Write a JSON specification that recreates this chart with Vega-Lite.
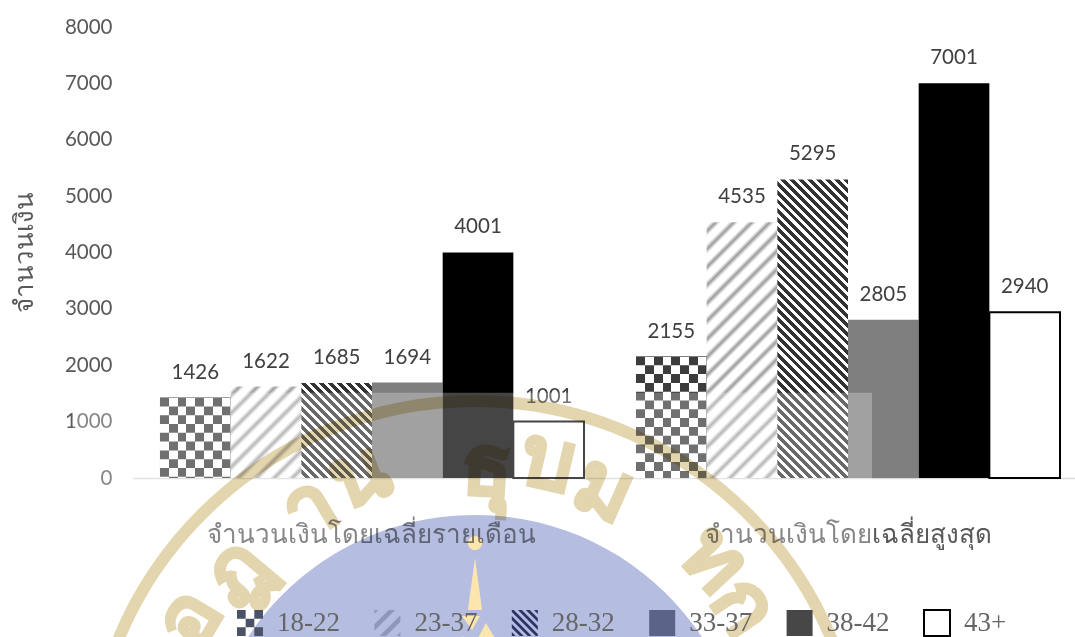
{
"$schema":"https://vega.github.io/schema/vega-lite/v6.json",
"autosize":{"type":"none"},
"padding":{"left":133,"top":27,"right":0,"bottom":159},
"width":942,"height":451,
"background":"white",
"config":{"view":{"stroke":null}},
"data":{"values":[
{"group":"จำนวนเงินโดยเฉลี่ยรายเดือน","age":"18-22","value":1426},
{"group":"จำนวนเงินโดยเฉลี่ยรายเดือน","age":"23-37","value":1622},
{"group":"จำนวนเงินโดยเฉลี่ยรายเดือน","age":"28-32","value":1685},
{"group":"จำนวนเงินโดยเฉลี่ยรายเดือน","age":"33-37","value":1694},
{"group":"จำนวนเงินโดยเฉลี่ยรายเดือน","age":"38-42","value":4001},
{"group":"จำนวนเงินโดยเฉลี่ยรายเดือน","age":"43+","value":1001},
{"group":"จำนวนเงินโดยเฉลี่ยสูงสุด","age":"18-22","value":2155},
{"group":"จำนวนเงินโดยเฉลี่ยสูงสุด","age":"23-37","value":4535},
{"group":"จำนวนเงินโดยเฉลี่ยสูงสุด","age":"28-32","value":5295},
{"group":"จำนวนเงินโดยเฉลี่ยสูงสุด","age":"33-37","value":2805},
{"group":"จำนวนเงินโดยเฉลี่ยสูงสุด","age":"38-42","value":7001},
{"group":"จำนวนเงินโดยเฉลี่ยสูงสุด","age":"43+","value":2940}
]},
"resolve":{"scale":{"x":"independent"}},
"layer":[
{
"encoding":{
"x":{"field":"group","type":"nominal","sort":null,"title":null,
"scale":{"paddingInner":0.10924,"paddingOuter":0.0441,"align":0.643},
"axis":{"labelAngle":0,"ticks":false,"domainColor":"#d9d9d9","domainWidth":1.5,"labelPadding":43,"labelFont":"Liberation Serif","labelFontSize":26,"labelColor":"#595959","labelLimit":500}},
"xOffset":{"field":"age","type":"nominal","sort":null,"scale":{"domain":["18-22","23-37","28-32","33-37","38-42","43+"],"paddingInner":0,"paddingOuter":0}},
"y":{"field":"value","type":"quantitative","scale":{"domain":[0,8000],"nice":false},
"axis":{"values":[0,1000,2000,3000,4000,5000,6000,7000,8000],"format":"d","grid":false,"ticks":false,"domain":false,"labelPadding":21,"labelFont":"Lato","labelFontSize":20.5,"labelColor":"#595959",
"title":"จำนวนเงิน","titleFont":"Liberation Serif","titleFontSize":26,"titleFontWeight":"normal","titleColor":"#595959","titleX":-96,"titleY":225}}
},
"layer":[
{"transform":[{"filter":{"field":"age","equal":"18-22"}}],"mark":{"type":"bar","fill":"#000000"}},
{"transform":[{"filter":{"field":"age","equal":"18-22"}}],"mark":{"type":"bar","blend":"difference","fill":{"gradient":"linear","x1":0,"y1":0,"x2":1,"y2":0,"stops":[
{"offset":0,"color":"#000"},{"offset":0.125,"color":"#000"},{"offset":0.125,"color":"#c3c3c3"},{"offset":0.25,"color":"#c3c3c3"},{"offset":0.25,"color":"#000"},{"offset":0.375,"color":"#000"},{"offset":0.375,"color":"#c3c3c3"},{"offset":0.5,"color":"#c3c3c3"},{"offset":0.5,"color":"#000"},{"offset":0.625,"color":"#000"},{"offset":0.625,"color":"#c3c3c3"},{"offset":0.75,"color":"#c3c3c3"},{"offset":0.75,"color":"#000"},{"offset":0.875,"color":"#000"},{"offset":0.875,"color":"#c3c3c3"},{"offset":1,"color":"#c3c3c3"}]}}},
{"transform":[{"filter":{"field":"age","equal":"18-22"}}],"mark":{"type":"rule","blend":"difference","stroke":"#c3c3c3","strokeWidth":70.67,"strokeDash":[8.8,8.8],"strokeCap":"butt"},"encoding":{"y2":{"datum":0}}},
{"transform":[{"filter":{"field":"age","equal":"18-22"}}],"mark":{"type":"bar","blend":"difference","fill":"#ffffff"}},
{"transform":[{"filter":{"field":"value","equal":1622}}],"mark":{"type":"bar","fill":{"gradient":"linear","x1":0,"y1":0,"x2":0.8578,"y2":1.110,"stops":[
{"offset":0.025,"color":"#fff"},{"offset":0.056,"color":"#9c9c9c"},{"offset":0.086,"color":"#fff"},{"offset":0.136,"color":"#fff"},{"offset":0.167,"color":"#9c9c9c"},{"offset":0.197,"color":"#fff"},{"offset":0.247,"color":"#fff"},{"offset":0.278,"color":"#9c9c9c"},{"offset":0.308,"color":"#fff"},{"offset":0.358,"color":"#fff"},{"offset":0.389,"color":"#9c9c9c"},{"offset":0.419,"color":"#fff"},{"offset":0.469,"color":"#fff"},{"offset":0.5,"color":"#9c9c9c"},{"offset":0.531,"color":"#fff"},{"offset":0.58,"color":"#fff"},{"offset":0.611,"color":"#9c9c9c"},{"offset":0.642,"color":"#fff"},{"offset":0.691,"color":"#fff"},{"offset":0.722,"color":"#9c9c9c"},{"offset":0.753,"color":"#fff"},{"offset":0.802,"color":"#fff"},{"offset":0.833,"color":"#9c9c9c"},{"offset":0.864,"color":"#fff"},{"offset":0.913,"color":"#fff"},{"offset":0.944,"color":"#9c9c9c"},{"offset":0.975,"color":"#fff"}]}}},
{"transform":[{"filter":{"field":"value","equal":4535}}],"mark":{"type":"bar","fill":{"gradient":"linear","x1":0,"y1":0,"x2":0.32779,"y2":1.18583,"stops":[
{"offset":0.012,"color":"#fff"},{"offset":0.028,"color":"#9c9c9c"},{"offset":0.043,"color":"#fff"},{"offset":0.067,"color":"#fff"},{"offset":0.083,"color":"#9c9c9c"},{"offset":0.098,"color":"#fff"},{"offset":0.123,"color":"#fff"},{"offset":0.138,"color":"#9c9c9c"},{"offset":0.153,"color":"#fff"},{"offset":0.178,"color":"#fff"},{"offset":0.193,"color":"#9c9c9c"},{"offset":0.209,"color":"#fff"},{"offset":0.233,"color":"#fff"},{"offset":0.248,"color":"#9c9c9c"},{"offset":0.264,"color":"#fff"},{"offset":0.288,"color":"#fff"},{"offset":0.303,"color":"#9c9c9c"},{"offset":0.319,"color":"#fff"},{"offset":0.343,"color":"#fff"},{"offset":0.359,"color":"#9c9c9c"},{"offset":0.374,"color":"#fff"},{"offset":0.398,"color":"#fff"},{"offset":0.414,"color":"#9c9c9c"},{"offset":0.429,"color":"#fff"},{"offset":0.454,"color":"#fff"},{"offset":0.469,"color":"#9c9c9c"},{"offset":0.484,"color":"#fff"},{"offset":0.509,"color":"#fff"},{"offset":0.524,"color":"#9c9c9c"},{"offset":0.539,"color":"#fff"},{"offset":0.564,"color":"#fff"},{"offset":0.579,"color":"#9c9c9c"},{"offset":0.594,"color":"#fff"},{"offset":0.619,"color":"#fff"},{"offset":0.634,"color":"#9c9c9c"},{"offset":0.65,"color":"#fff"},{"offset":0.674,"color":"#fff"},{"offset":0.69,"color":"#9c9c9c"},{"offset":0.705,"color":"#fff"},{"offset":0.729,"color":"#fff"},{"offset":0.745,"color":"#9c9c9c"},{"offset":0.76,"color":"#fff"},{"offset":0.785,"color":"#fff"},{"offset":0.8,"color":"#9c9c9c"},{"offset":0.815,"color":"#fff"},{"offset":0.84,"color":"#fff"},{"offset":0.855,"color":"#9c9c9c"},{"offset":0.87,"color":"#fff"},{"offset":0.895,"color":"#fff"},{"offset":0.91,"color":"#9c9c9c"},{"offset":0.925,"color":"#fff"},{"offset":0.95,"color":"#fff"},{"offset":0.966,"color":"#9c9c9c"},{"offset":0.981,"color":"#fff"}]}}},
{"transform":[{"filter":{"field":"value","equal":1685}}],"mark":{"type":"bar","fill":{"gradient":"linear","x1":0,"y1":1,"x2":0.8351,"y2":-0.1226,"stops":[
{"offset":0.027,"color":"#fff"},{"offset":0.027,"color":"#333"},{"offset":0.054,"color":"#333"},{"offset":0.054,"color":"#fff"},{"offset":0.081,"color":"#fff"},{"offset":0.081,"color":"#333"},{"offset":0.109,"color":"#333"},{"offset":0.109,"color":"#fff"},{"offset":0.136,"color":"#fff"},{"offset":0.136,"color":"#333"},{"offset":0.163,"color":"#333"},{"offset":0.163,"color":"#fff"},{"offset":0.19,"color":"#fff"},{"offset":0.19,"color":"#333"},{"offset":0.217,"color":"#333"},{"offset":0.217,"color":"#fff"},{"offset":0.244,"color":"#fff"},{"offset":0.244,"color":"#333"},{"offset":0.272,"color":"#333"},{"offset":0.272,"color":"#fff"},{"offset":0.299,"color":"#fff"},{"offset":0.299,"color":"#333"},{"offset":0.326,"color":"#333"},{"offset":0.326,"color":"#fff"},{"offset":0.353,"color":"#fff"},{"offset":0.353,"color":"#333"},{"offset":0.38,"color":"#333"},{"offset":0.38,"color":"#fff"},{"offset":0.407,"color":"#fff"},{"offset":0.407,"color":"#333"},{"offset":0.435,"color":"#333"},{"offset":0.435,"color":"#fff"},{"offset":0.462,"color":"#fff"},{"offset":0.462,"color":"#333"},{"offset":0.489,"color":"#333"},{"offset":0.489,"color":"#fff"},{"offset":0.516,"color":"#fff"},{"offset":0.516,"color":"#333"},{"offset":0.543,"color":"#333"},{"offset":0.543,"color":"#fff"},{"offset":0.57,"color":"#fff"},{"offset":0.57,"color":"#333"},{"offset":0.598,"color":"#333"},{"offset":0.598,"color":"#fff"},{"offset":0.625,"color":"#fff"},{"offset":0.625,"color":"#333"},{"offset":0.652,"color":"#333"},{"offset":0.652,"color":"#fff"},{"offset":0.679,"color":"#fff"},{"offset":0.679,"color":"#333"},{"offset":0.706,"color":"#333"},{"offset":0.706,"color":"#fff"},{"offset":0.733,"color":"#fff"},{"offset":0.733,"color":"#333"},{"offset":0.761,"color":"#333"},{"offset":0.761,"color":"#fff"},{"offset":0.788,"color":"#fff"},{"offset":0.788,"color":"#333"},{"offset":0.815,"color":"#333"},{"offset":0.815,"color":"#fff"},{"offset":0.842,"color":"#fff"},{"offset":0.842,"color":"#333"},{"offset":0.869,"color":"#333"},{"offset":0.869,"color":"#fff"},{"offset":0.896,"color":"#fff"},{"offset":0.896,"color":"#333"},{"offset":0.924,"color":"#333"},{"offset":0.924,"color":"#fff"},{"offset":0.951,"color":"#fff"},{"offset":0.951,"color":"#333"},{"offset":0.978,"color":"#333"},{"offset":0.978,"color":"#fff"}]}}},
{"transform":[{"filter":{"field":"value","equal":5295}}],"mark":{"type":"bar","fill":{"gradient":"linear","x1":0,"y1":1,"x2":0.27726,"y2":-0.17111,"stops":[
{"offset":0.012,"color":"#fff"},{"offset":0.012,"color":"#333"},{"offset":0.024,"color":"#333"},{"offset":0.024,"color":"#fff"},{"offset":0.037,"color":"#fff"},{"offset":0.037,"color":"#333"},{"offset":0.049,"color":"#333"},{"offset":0.049,"color":"#fff"},{"offset":0.061,"color":"#fff"},{"offset":0.061,"color":"#333"},{"offset":0.073,"color":"#333"},{"offset":0.073,"color":"#fff"},{"offset":0.085,"color":"#fff"},{"offset":0.085,"color":"#333"},{"offset":0.098,"color":"#333"},{"offset":0.098,"color":"#fff"},{"offset":0.11,"color":"#fff"},{"offset":0.11,"color":"#333"},{"offset":0.122,"color":"#333"},{"offset":0.122,"color":"#fff"},{"offset":0.134,"color":"#fff"},{"offset":0.134,"color":"#333"},{"offset":0.146,"color":"#333"},{"offset":0.146,"color":"#fff"},{"offset":0.158,"color":"#fff"},{"offset":0.158,"color":"#333"},{"offset":0.171,"color":"#333"},{"offset":0.171,"color":"#fff"},{"offset":0.183,"color":"#fff"},{"offset":0.183,"color":"#333"},{"offset":0.195,"color":"#333"},{"offset":0.195,"color":"#fff"},{"offset":0.207,"color":"#fff"},{"offset":0.207,"color":"#333"},{"offset":0.219,"color":"#333"},{"offset":0.219,"color":"#fff"},{"offset":0.232,"color":"#fff"},{"offset":0.232,"color":"#333"},{"offset":0.244,"color":"#333"},{"offset":0.244,"color":"#fff"},{"offset":0.256,"color":"#fff"},{"offset":0.256,"color":"#333"},{"offset":0.268,"color":"#333"},{"offset":0.268,"color":"#fff"},{"offset":0.28,"color":"#fff"},{"offset":0.28,"color":"#333"},{"offset":0.293,"color":"#333"},{"offset":0.293,"color":"#fff"},{"offset":0.305,"color":"#fff"},{"offset":0.305,"color":"#333"},{"offset":0.317,"color":"#333"},{"offset":0.317,"color":"#fff"},{"offset":0.329,"color":"#fff"},{"offset":0.329,"color":"#333"},{"offset":0.341,"color":"#333"},{"offset":0.341,"color":"#fff"},{"offset":0.354,"color":"#fff"},{"offset":0.354,"color":"#333"},{"offset":0.366,"color":"#333"},{"offset":0.366,"color":"#fff"},{"offset":0.378,"color":"#fff"},{"offset":0.378,"color":"#333"},{"offset":0.39,"color":"#333"},{"offset":0.39,"color":"#fff"},{"offset":0.402,"color":"#fff"},{"offset":0.402,"color":"#333"},{"offset":0.414,"color":"#333"},{"offset":0.414,"color":"#fff"},{"offset":0.427,"color":"#fff"},{"offset":0.427,"color":"#333"},{"offset":0.439,"color":"#333"},{"offset":0.439,"color":"#fff"},{"offset":0.451,"color":"#fff"},{"offset":0.451,"color":"#333"},{"offset":0.463,"color":"#333"},{"offset":0.463,"color":"#fff"},{"offset":0.475,"color":"#fff"},{"offset":0.475,"color":"#333"},{"offset":0.488,"color":"#333"},{"offset":0.488,"color":"#fff"},{"offset":0.5,"color":"#fff"},{"offset":0.5,"color":"#333"},{"offset":0.512,"color":"#333"},{"offset":0.512,"color":"#fff"},{"offset":0.524,"color":"#fff"},{"offset":0.524,"color":"#333"},{"offset":0.536,"color":"#333"},{"offset":0.536,"color":"#fff"},{"offset":0.549,"color":"#fff"},{"offset":0.549,"color":"#333"},{"offset":0.561,"color":"#333"},{"offset":0.561,"color":"#fff"},{"offset":0.573,"color":"#fff"},{"offset":0.573,"color":"#333"},{"offset":0.585,"color":"#333"},{"offset":0.585,"color":"#fff"},{"offset":0.597,"color":"#fff"},{"offset":0.597,"color":"#333"},{"offset":0.61,"color":"#333"},{"offset":0.61,"color":"#fff"},{"offset":0.622,"color":"#fff"},{"offset":0.622,"color":"#333"},{"offset":0.634,"color":"#333"},{"offset":0.634,"color":"#fff"},{"offset":0.646,"color":"#fff"},{"offset":0.646,"color":"#333"},{"offset":0.658,"color":"#333"},{"offset":0.658,"color":"#fff"},{"offset":0.67,"color":"#fff"},{"offset":0.67,"color":"#333"},{"offset":0.683,"color":"#333"},{"offset":0.683,"color":"#fff"},{"offset":0.695,"color":"#fff"},{"offset":0.695,"color":"#333"},{"offset":0.707,"color":"#333"},{"offset":0.707,"color":"#fff"},{"offset":0.719,"color":"#fff"},{"offset":0.719,"color":"#333"},{"offset":0.731,"color":"#333"},{"offset":0.731,"color":"#fff"},{"offset":0.744,"color":"#fff"},{"offset":0.744,"color":"#333"},{"offset":0.756,"color":"#333"},{"offset":0.756,"color":"#fff"},{"offset":0.768,"color":"#fff"},{"offset":0.768,"color":"#333"},{"offset":0.78,"color":"#333"},{"offset":0.78,"color":"#fff"},{"offset":0.792,"color":"#fff"},{"offset":0.792,"color":"#333"},{"offset":0.805,"color":"#333"},{"offset":0.805,"color":"#fff"},{"offset":0.817,"color":"#fff"},{"offset":0.817,"color":"#333"},{"offset":0.829,"color":"#333"},{"offset":0.829,"color":"#fff"},{"offset":0.841,"color":"#fff"},{"offset":0.841,"color":"#333"},{"offset":0.853,"color":"#333"},{"offset":0.853,"color":"#fff"},{"offset":0.865,"color":"#fff"},{"offset":0.865,"color":"#333"},{"offset":0.878,"color":"#333"},{"offset":0.878,"color":"#fff"},{"offset":0.89,"color":"#fff"},{"offset":0.89,"color":"#333"},{"offset":0.902,"color":"#333"},{"offset":0.902,"color":"#fff"},{"offset":0.914,"color":"#fff"},{"offset":0.914,"color":"#333"},{"offset":0.926,"color":"#333"},{"offset":0.926,"color":"#fff"},{"offset":0.939,"color":"#fff"},{"offset":0.939,"color":"#333"},{"offset":0.951,"color":"#333"},{"offset":0.951,"color":"#fff"},{"offset":0.963,"color":"#fff"},{"offset":0.963,"color":"#333"},{"offset":0.975,"color":"#333"},{"offset":0.975,"color":"#fff"},{"offset":0.987,"color":"#fff"},{"offset":0.987,"color":"#333"}]}}},
{"transform":[{"filter":{"field":"age","equal":"33-37"}}],"mark":{"type":"bar","fill":"#7f7f7f"}},
{"transform":[{"filter":{"field":"age","equal":"38-42"}}],"mark":{"type":"bar","fill":"#000000"}},
{"transform":[{"filter":{"field":"age","equal":"43+"}}],"mark":{"type":"bar","fill":"#ffffff","stroke":"#000000","strokeWidth":2}},
{"mark":{"type":"point","filled":true,"size":0,"opacity":1},
"encoding":{
"fill":{"field":"age","type":"nominal","sort":null,"scale":{"domain":["18-22","23-37","28-32","33-37","38-42","43+"],"range":["#4c5268","#8f98b8","#2b3462","#5a6488","#474747","#ffffff"]},
"legend":{"title":null,"orient":"none","legendX":103,"legendY":582,"direction":"horizontal","columns":6,"gridAlign":"all","columnPadding":30.4,"symbolSize":676,"symbolStrokeWidth":2,"labelOffset":13,"labelFont":"Liberation Serif","labelFontSize":27,"labelColor":"#666666","padding":0,"labelLimit":120,
"encode":{"labels":{"update":{"fill":{"signal":"indexof(['18-22','23-37','28-32'],datum.value)>=0?'#3f4a70':datum.value==='33-37'?'#5f6580':'#6a6a6a'"}}}}}},
"shape":{"field":"age","type":"nominal","sort":null,"scale":{"domain":["18-22","23-37","28-32","33-37","38-42","43+"],"range":[
"M-1 -1H-.333V-.333H-1ZM.333 -1H1V-.333H.333ZM-.333 -.333H.333V.333H-.333ZM-1 .333H-.333V1H-1ZM.333 .333H1V1H.333Z",
"M-1 .1L.1 -1L.6 -1L-1 .6ZM-.6 1L1 -.6L1 -.1L-.1 1ZM-1 -1L-.7 -1L-1 -.7ZM1 .7L1 1L.7 1Z",
"M-1 -.85L-1 -1L-.85 -1L1 .85L1 1L.85 1ZM-.53 -1L-.23 -1L1 .23L1 .53ZM.08 -1L.38 -1L1 -.38L1 -.08ZM.7 -1L1 -1L1 -.7ZM-1 -.53L-1 -.23L.23 1L.53 1ZM-1 .08L-1 .38L-.38 1L-.08 1ZM-1 .7L-1 1L-.7 1Z",
"square","square","square"]},"legend":{"title":null}},
"stroke":{"field":"age","type":"nominal","sort":null,"scale":{"domain":["18-22","23-37","28-32","33-37","38-42","43+"],"range":["transparent","transparent","transparent","transparent","transparent","#000000"]},"legend":{"title":null}}
}},
{"mark":{"type":"text","dy":-25,"font":"Lato","fontSize":20.5,"fill":"#404040"},"encoding":{"text":{"field":"value","type":"quantitative","format":"d"}}}
]
},
{"data":{"values":[{"l":-60,"r":739,"t":1510,"b":-2820}]},
"mark":{"type":"rect","fill":"#ffffff","opacity":0.27},
"encoding":{
"x":{"field":"l","type":"quantitative","scale":{"domain":[0,942],"nice":false,"zero":false},"axis":null},"x2":{"field":"r"},
"y":{"field":"t","type":"quantitative","scale":{"domain":[0,8000],"nice":false}},"y2":{"field":"b"}}},
{"data":{"values":[{"cx":342,"cy":-5481}]},
"encoding":{
"x":{"field":"cx","type":"quantitative","scale":{"domain":[0,942],"nice":false,"zero":false},"axis":null},
"y":{"field":"cy","type":"quantitative","scale":{"domain":[0,8000],"nice":false}}},
"layer":[
{"mark":{"type":"point","filled":true,"opacity":1,"fill":"#b5bee1","blend":"multiply","size":295936,
"shape":"M-1 0A1 1 0 1 1 1 0A1 1 0 1 1 -1 0ZM0 -.842L-.026 -.651L.026 -.651ZM-.048 -.629L-.011 -.577L.018 -.629ZM.04 -.603L-.011 -.504L.099 -.504ZM-.044 -.555L-.099 -.504L-.018 -.504ZM-.026 -.897A.026 .026 0 1 0 .026 -.897A.026 .026 0 1 0 -.026 -.897Z"}},
{"mark":{"type":"point","filled":true,"opacity":1,"fill":"#fde6ae","blend":"multiply","size":295936,
"shape":"M0 -.842L-.026 -.651L.026 -.651ZM-.048 -.629L-.011 -.577L.018 -.629ZM.04 -.603L-.011 -.504L.099 -.504ZM-.044 -.555L-.099 -.504L-.018 -.504ZM-.026 -.897A.026 .026 0 1 0 .026 -.897A.026 .026 0 1 0 -.026 -.897Z"}},
{"mark":{"type":"point","filled":false,"opacity":1,"stroke":"#e3d5ae","strokeWidth":12,"blend":"multiply","shape":"circle","size":595984}}
]},
{"data":{"values":[
{"g":"อ","u":57,"v":-2519,"a":-59},
{"g":"ฎ","u":104,"v":-1685,"a":-50},
{"g":"า","u":177,"v":-550,"a":-31},
{"g":"น","u":227,"v":18,"a":-21},
{"g":"ธุ","u":354,"v":150,"a":3},
{"g":"บ","u":414,"v":266,"a":13},
{"g":"ม","u":470,"v":-213,"a":24},
{"g":"ท","u":580,"v":-1455,"a":47},
{"g":"ก","u":610,"v":-2288,"a":56}
]},
"mark":{"type":"text","font":"Noto Sans","fontWeight":"bold","fontSize":84,"baseline":"middle","fill":"#e3d5ae","stroke":"#e3d5ae","strokeWidth":3,"blend":"multiply"},
"encoding":{
"x":{"field":"u","type":"quantitative","scale":{"domain":[0,942],"nice":false,"zero":false},"axis":null},
"y":{"field":"v","type":"quantitative","scale":{"domain":[0,8000],"nice":false}},
"angle":{"field":"a","type":"quantitative","scale":null},
"text":{"field":"g"}}}
]
}
